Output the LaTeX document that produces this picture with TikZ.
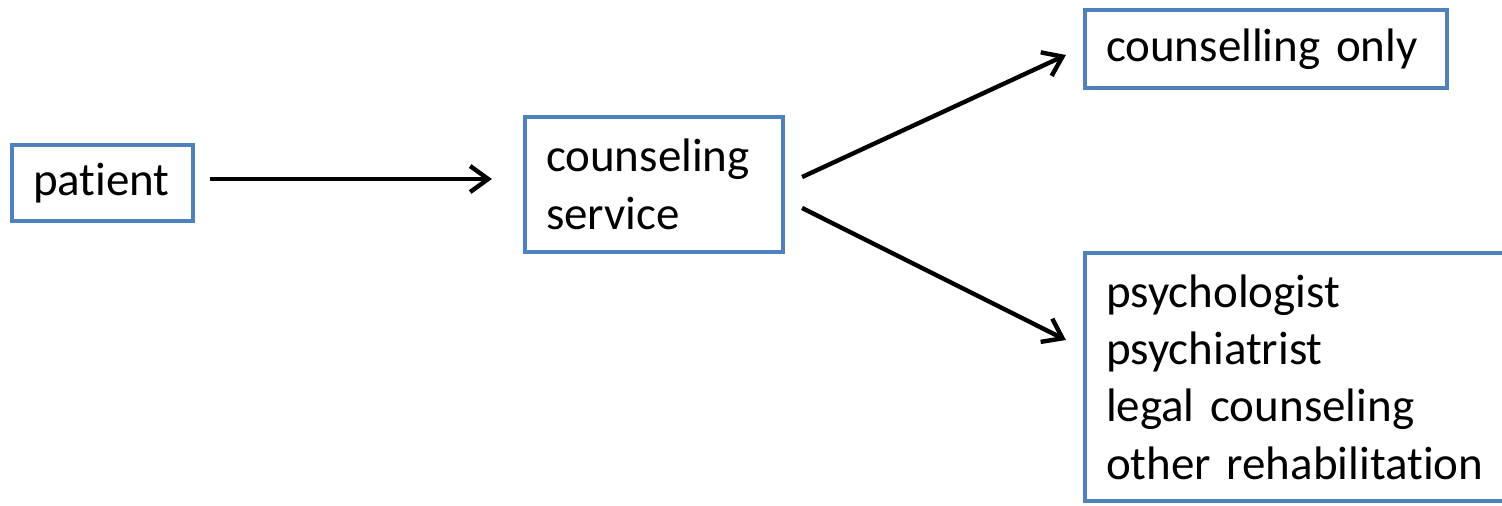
\documentclass[tikz,border=0pt]{standalone}
\usepackage{fontspec}
\setmainfont[Ligatures=NoCommon,WordSpace=0.9]{Carlito}
\usetikzlibrary{arrows.meta,calc}
\definecolor{boxblue}{HTML}{4F81BD}
\begin{document}
\begin{tikzpicture}[x=0.5pt,y=-0.5pt,
  box/.style={draw=boxblue,line width=2.1pt,fill=white,inner xsep=10.5pt,inner ysep=0pt,
    align=left,font=\fontsize{23.5pt}{28.7pt}\selectfont},
  arr/.style={draw=black,line width=2.2pt,-{Straight Barb[length=9pt,width=13pt]}}]
\useasboundingbox (0,0) rectangle (1502,505);
\node[box,minimum width=90.5pt,minimum height=38pt,text width=69.5pt] (patient) at (102.5,183) {patient};
\node[box,minimum width=129pt,minimum height=67.5pt,text width=108pt] (svc) at (654,184.5) {counseling\\service};
\node[box,minimum width=181pt,minimum height=39pt,text width=160pt] (only) at (1266,49) {counselling only};
\node[box,minimum width=212.5pt,minimum height=124pt,text width=191.5pt] (multi) at (1297.5,377) {psychologist\\psychiatrist\\legal counseling\\other rehabilitation};
\draw[arr] ($(patient.east)+(15,-4)$) -- ($(svc.west)+(-31,-5.5)$);
\draw[arr] ($(svc.east)+(17,-7.5)$) -- ($(only.west)+(-17,6)$);
\draw[arr] ($(svc.east)+(17,23.5)$) -- ($(multi.west)+(-17,-37)$);
\end{tikzpicture}
\end{document}
